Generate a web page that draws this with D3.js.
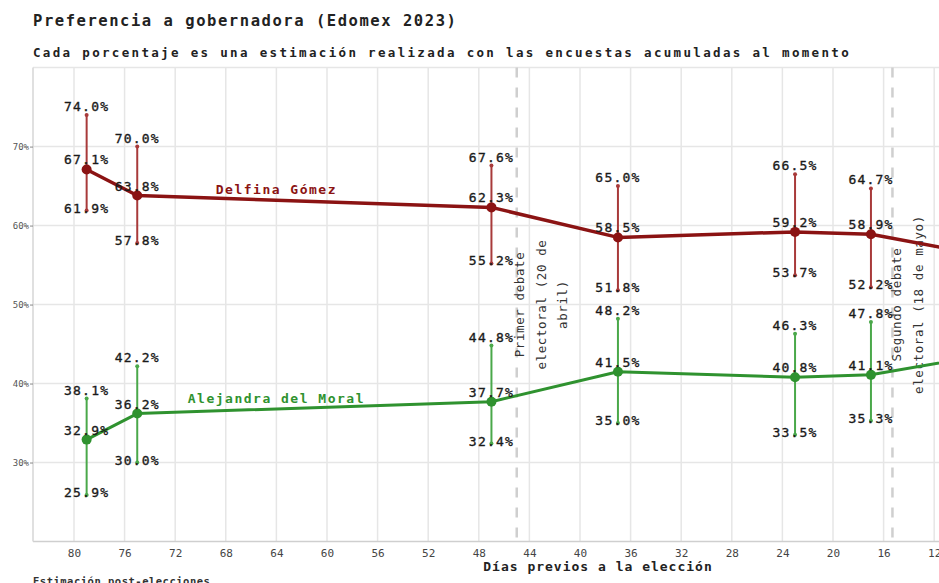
<!DOCTYPE html>
<html>
<head>
<meta charset="utf-8">
<script src="https://cdn.jsdelivr.net/npm/d3@7"></script>
<style>
  html, body { margin: 0; padding: 0; background: #fff; overflow: hidden; }
  svg { display: block; }
  text { font-family: "DejaVu Sans Mono", "Liberation Mono", monospace; }
</style>
</head>
<body>
<script>
// ---- data ----
const days = [79, 75, 47, 37, 23, 17, 0];
const delfina = [67.1, 63.8, 62.3, 58.5, 59.2, 58.9, 53.8];
const delfinaLo = [61.9, 57.8, 55.2, 51.8, 53.7, 52.2, null];
const delfinaHi = [74.0, 70.0, 67.6, 65.0, 66.5, 64.7, null];
const alejandra = [32.9, 36.2, 37.7, 41.5, 40.8, 41.1, 45.8];
const alejandraLo = [25.9, 30.0, 32.4, 35.0, 33.5, 35.3, null];
const alejandraHi = [38.1, 42.2, 44.8, 48.2, 46.3, 47.8, null];
const seriesNames = ["Delfina Gómez", "Alejandra del Moral"];
const xTicks = [80, 76, 72, 68, 64, 60, 56, 52, 48, 44, 40, 36, 32, 28, 24, 20, 16, 12, 8, 4, 0];
const yTicks = [30, 40, 50, 60, 70];
const yGrid = [20, 30, 40, 50, 60, 70, 80];
const debateDays = [45, 15.3];
const debateLabels = [["Primer debate", "electoral (20 de", "abril)"], ["Segundo debate", "electoral (18 de mayo)"]];
const labelDay = 64;

const W = 1200, H = 583;
const svg = d3.select("body").append("svg").attr("width", W).attr("height", H);

const x = d3.scaleLinear().domain([83.24, 0]).range([33, 1086]);
const y = d3.scaleLinear().domain([20, 80]).range([541.5, 67.6]);

// grid
svg.append("g").selectAll("line").data(xTicks).join("line")
  .attr("x1", d => x(d)).attr("x2", d => x(d))
  .attr("y1", y(80)).attr("y2", y(20))
  .attr("stroke", "#e6e6e6").attr("stroke-width", 1.5);
svg.append("g").selectAll("line").data(yGrid).join("line")
  .attr("x1", x(83.24)).attr("x2", W)
  .attr("y1", d => y(d)).attr("y2", d => y(d))
  .attr("stroke", d => d === 20 ? "#cfcfcf" : "#e6e6e6").attr("stroke-width", 1.5);
svg.append("line").attr("x1", 33).attr("x2", 33).attr("y1", y(80)).attr("y2", y(20))
  .attr("stroke", "#d6d6d6").attr("stroke-width", 1.5);

// axes
const xAxis = d3.axisBottom(x).tickValues(xTicks).tickSize(0).tickPadding(8).tickFormat(d3.format("d"));
const gx = svg.append("g").attr("transform", `translate(0,${y(20)})`).call(xAxis);
gx.select(".domain").remove();
gx.selectAll("text").attr("font-size", 11).attr("fill", "#444").attr("font-family", "DejaVu Sans Mono");

const yAxis = d3.axisLeft(y).tickValues(yTicks).tickSize(3).tickPadding(1).tickFormat(d => d + "%");
const gy = svg.append("g").attr("transform", `translate(33,0)`).call(yAxis);
gy.select(".domain").remove();
gy.selectAll("line").attr("stroke", "#888");
gy.selectAll("text").attr("font-size", 9).attr("fill", "#555").attr("font-family", "DejaVu Sans Mono");

// debate lines
debateDays.forEach((dd, i) => {
  svg.append("line").attr("x1", x(dd)).attr("x2", x(dd)).attr("y1", y(80)).attr("y2", y(20))
    .attr("stroke", "#cfcfcf").attr("stroke-width", 2.5).attr("stroke-dasharray", "10,10");
  const g = svg.append("g").attr("transform", `translate(${x(dd) + (i === 0 ? 3 : 4.5)},${y(50)}) rotate(-90)`);
  debateLabels[i].forEach((t, j) => {
    g.append("text").attr("x", 0).attr("y", j * 21.3)
      .attr("text-anchor", "middle").attr("dominant-baseline", "central")
      .attr("font-size", 12.5).attr("fill", "#333").attr("letter-spacing", 0.6).text(t);
  });
});

// series
const series = [
  { name: seriesNames[0], v: delfina, lo: delfinaLo, hi: delfinaHi, color: "#8b1313", whisker: "#a83a3a", lw: 3.5 },
  { name: seriesNames[1], v: alejandra, lo: alejandraLo, hi: alejandraHi, color: "#2f922f", whisker: "#4aa84a", lw: 3 }
];

series.forEach(s => {
  const pts = days.map((d, i) => ({ d, v: s.v[i], lo: s.lo[i], hi: s.hi[i] }));
  const eb = pts.filter(p => p.lo !== null);
  // whiskers
  svg.append("g").selectAll("line").data(eb).join("line")
    .attr("x1", p => x(p.d)).attr("x2", p => x(p.d))
    .attr("y1", p => y(p.hi)).attr("y2", p => y(p.lo))
    .attr("stroke", s.whisker).attr("stroke-width", 2);
  svg.append("g").selectAll("circle").data(eb.flatMap(p => [{ d: p.d, v: p.hi }, { d: p.d, v: p.lo }])).join("circle")
    .attr("cx", p => x(p.d)).attr("cy", p => y(p.v)).attr("r", 2).attr("fill", s.whisker);
  // line
  svg.append("path").datum(pts)
    .attr("d", d3.line().x(p => x(p.d)).y(p => y(p.v)))
    .attr("fill", "none").attr("stroke", s.color).attr("stroke-width", s.lw).attr("stroke-linejoin", "round");
  svg.append("g").selectAll("circle").data(pts).join("circle")
    .attr("cx", p => x(p.d)).attr("cy", p => y(p.v)).attr("r", 5).attr("fill", s.color);
  // labels
  const lab = svg.append("g").attr("font-size", 13).attr("fill", "#1a1a1a").attr("stroke", "#1a1a1a")
    .attr("stroke-width", 0.35).attr("text-anchor", "middle").attr("letter-spacing", 1.2);
  eb.forEach(p => {
    lab.append("text").attr("x", x(p.d)).attr("y", y(p.hi) - 4).text(p.hi.toFixed(1) + "%");
    lab.append("text").attr("x", x(p.d)).attr("y", y(p.v) - 5).text(p.v.toFixed(1) + "%");
    lab.append("text").attr("x", x(p.d)).attr("y", y(p.lo) + 2).text(p.lo.toFixed(1) + "%");
  });
  // series name
  const interp = d3.scaleLinear().domain(days).range(s.v);
  svg.append("text").attr("x", x(labelDay)).attr("y", y(interp(labelDay)) - 6)
    .attr("text-anchor", "middle").attr("font-size", 13).attr("font-weight", "bold")
    .attr("letter-spacing", 1.5).attr("fill", s.color).text(s.name);
});

// titles
svg.append("text").attr("x", 33).attr("y", 26).attr("font-size", 15.5).attr("font-weight", "bold")
  .attr("letter-spacing", 1.55).attr("fill", "#222").text("Preferencia a gobernadora (Edomex 2023)");
svg.append("text").attr("x", 33).attr("y", 57).attr("font-size", 12.5).attr("font-weight", "bold")
  .attr("letter-spacing", 2.33).attr("fill", "#222").text("Cada porcentaje es una estimación realizada con las encuestas acumuladas al momento");

svg.append("text").attr("x", 598).attr("y", 571).attr("text-anchor", "middle").attr("font-size", 13)
  .attr("font-weight", "bold").attr("letter-spacing", 1.0).attr("fill", "#222").text("Días previos a la elección");
svg.append("text").attr("x", 33).attr("y", 585).attr("font-size", 10.5).attr("font-weight", "bold")
  .attr("letter-spacing", 0.5).attr("fill", "#333").text("Estimación post-elecciones");
</script>
</body>
</html>
